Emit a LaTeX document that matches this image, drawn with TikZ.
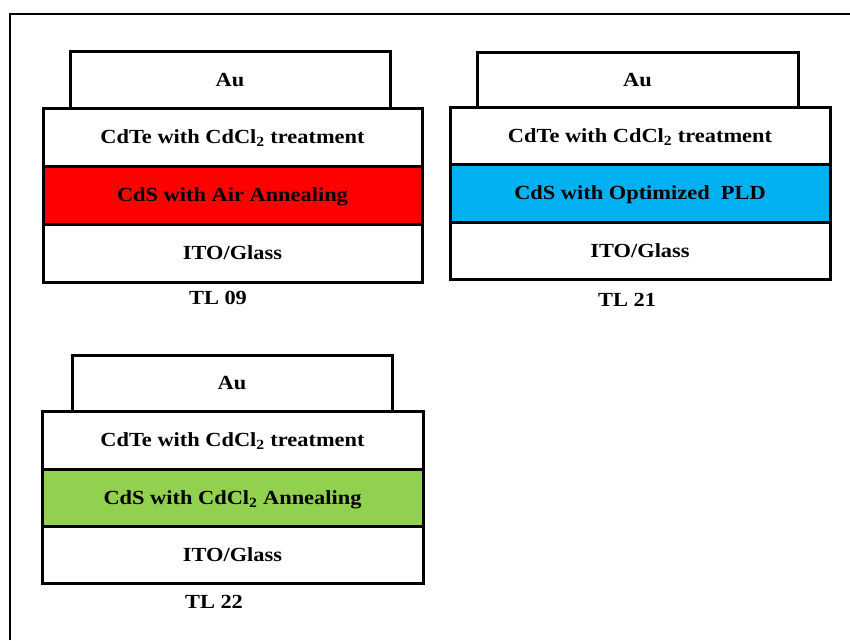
\documentclass[tikz,border=0pt]{standalone}
\usepackage{fontspec}
\setmainfont{Liberation Serif}
\newfontfamily\layerfont[FakeStretch=1.12]{Liberation Serif}
\definecolor{airred}{HTML}{FF0000}
\definecolor{pldblue}{HTML}{00B0F0}
\definecolor{clgreen}{HTML}{92D050}
\begin{document}
\begin{tikzpicture}[x=1pt,y=-1pt,
  layer/.style={draw=black, line width=3pt, fill=white, inner sep=0pt,
    text height=15pt, text depth=2pt,
    font=\layerfont\fontsize{20}{23}\selectfont\bfseries, text=black},
  caption/.style={inner sep=0pt, text height=15pt, text depth=2pt,
    font=\layerfont\fontsize{20}{23}\selectfont\bfseries}]
\useasboundingbox (0,0) rectangle (850,640);
% outer frame (open to the right and bottom)
\draw[line width=2.2pt] (10,640) -- (10,14) -- (850,14);

% --- TL 09 ---
\node[layer, minimum width=320, minimum height=57] (au1) at (230,79.5) {Au};
\node[layer, minimum width=379, minimum height=58] (cdte1) at (232.5,137) {CdTe with CdCl\textsubscript{2} treatment};
\node[layer, fill=airred, minimum width=379, minimum height=58] (cds1) at (232.5,195) {CdS with Air Annealing};
\node[layer, minimum width=379, minimum height=58] (ito1) at (232.5,253) {ITO/Glass};
\node[caption] (tl1) at (218,298) {TL 09};

% --- TL 21 ---
\node[layer, minimum width=321, minimum height=55] (au2) at (637.5,79.5) {Au};
\node[layer, minimum width=380, minimum height=57] (cdte2) at (640,135.5) {CdTe with CdCl\textsubscript{2} treatment};
\node[layer, fill=pldblue, minimum width=380, minimum height=58] (cds2) at (640,193) {CdS with Optimized\ \ PLD};
\node[layer, minimum width=380, minimum height=57] (ito2) at (640,250.5) {ITO/Glass};
\node[caption] (tl2) at (627,300) {TL 21};

% --- TL 22 ---
\node[layer, minimum width=320, minimum height=56] (au3) at (232,383) {Au};
\node[layer, minimum width=381, minimum height=58] (cdte3) at (232.5,440) {CdTe with CdCl\textsubscript{2} treatment};
\node[layer, fill=clgreen, minimum width=381, minimum height=57] (cds3) at (232.5,497.5) {CdS with CdCl\textsubscript{2} Annealing};
\node[layer, minimum width=381, minimum height=57] (ito3) at (232.5,554.5) {ITO/Glass};
\node[caption] (tl3) at (214,602) {TL 22};
\end{tikzpicture}
\end{document}
